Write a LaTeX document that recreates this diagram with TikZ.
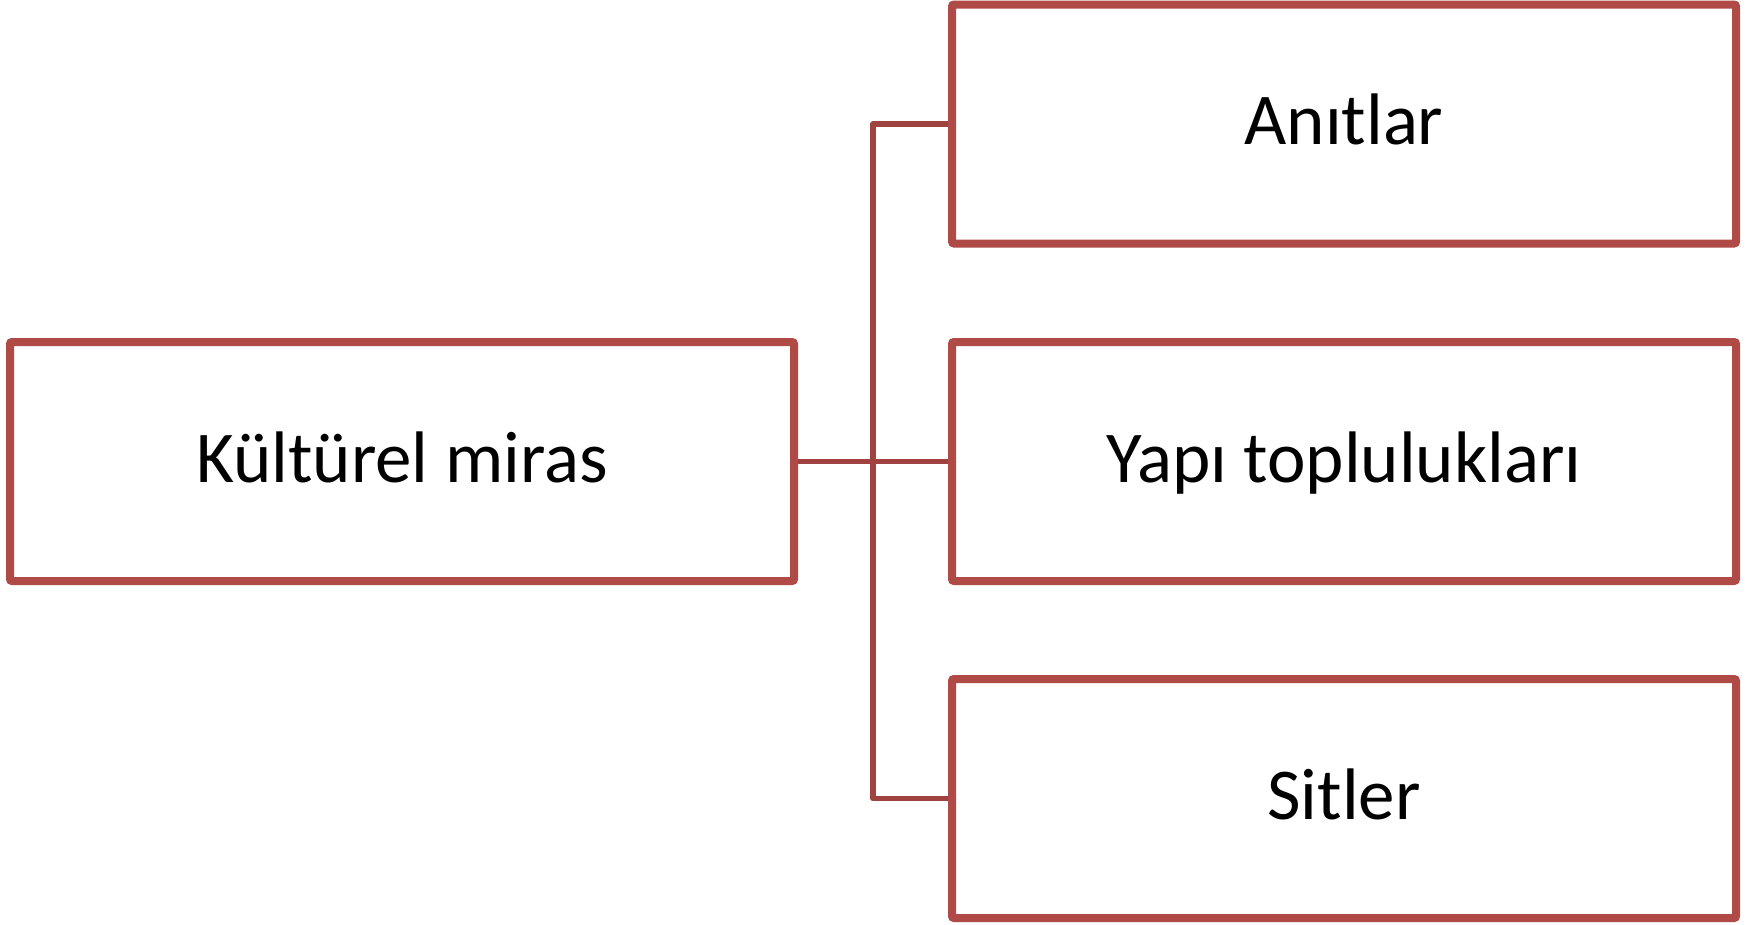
\documentclass[tikz,border=0pt]{standalone}
\usepackage{fontspec}
\setmainfont{Carlito}
\usetikzlibrary{shadows,backgrounds}
\definecolor{boxred}{RGB}{176,74,71}
\definecolor{linered}{RGB}{160,66,64}
\begin{document}
\begin{tikzpicture}[x=1pt,y=-1pt,
  box/.style={draw=boxred, line width=8pt, fill=white, rounded corners=2pt,
    minimum width=784pt, minimum height=239pt, inner sep=0pt,
    text height=41pt, text depth=0pt,
    font=\fontsize{73}{88}\selectfont,
    drop shadow={opacity=0.25, shadow xshift=2pt, shadow yshift=-3pt}},
  conn/.style={draw=linered, line width=5.5pt, line join=round}]
\useasboundingbox (0,0) rectangle (1756,924);
\coordinate (busx) at (873,0);
\node[box] (L) at (402,461.5) {Kültürel miras};
\node[box] (T) at (1344,124) {Anıtlar};
\node[box] (M) at (1344,461.5) {Yapı toplulukları};
\node[box] (B) at (1344,798.5) {Sitler};
\begin{scope}[on background layer]
\draw[conn] (L.east) -- (M.west);
\draw[conn] (T.west) -- (T.west -| busx) -- (B.west -| busx) -- (B.west);
\end{scope}
\end{tikzpicture}
\end{document}
